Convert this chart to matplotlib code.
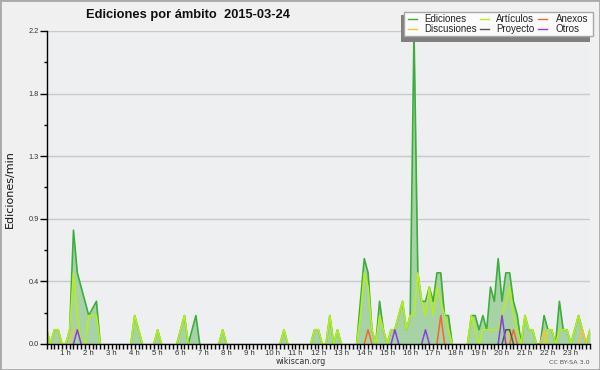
import numpy as np
import matplotlib
matplotlib.use("Agg")
import matplotlib.pyplot as plt
from matplotlib.patches import Rectangle
from matplotlib.lines import Line2D
from matplotlib.transforms import ScaledTranslation

# ---- data: edits per minute, 10-minute bins (bin 6*h = h:00) ----
ediciones = [
    0.1, 0, 0.1, 0.1, 0, 0,          # 0h
    0.1, 0.8, 0.5, 0.4, 0.3, 0.2,    # 1h
    0.25, 0.3, 0, 0, 0, 0,           # 2h
    0, 0, 0, 0, 0, 0.2,              # 3h
    0.1, 0, 0, 0, 0, 0.1,            # 4h
    0, 0, 0, 0, 0, 0.1,              # 5h
    0.2, 0, 0.1, 0.2, 0, 0,          # 6h
    0, 0, 0, 0, 0.1, 0,              # 7h
    0, 0, 0, 0, 0, 0,                # 8h
    0, 0, 0, 0, 0, 0,                # 9h
    0, 0, 0.1, 0, 0, 0,              # 10h
    0, 0, 0, 0, 0.1, 0.1,            # 11h
    0, 0, 0.2, 0, 0.1, 0,            # 12h
    0, 0, 0, 0, 0.3, 0.6,            # 13h
    0.5, 0.1, 0, 0.3, 0.1, 0,        # 14h
    0.1, 0.1, 0.2, 0.3, 0.1, 0.2,    # 15h
    2.2, 0.5, 0.3, 0.3, 0.4, 0.3,    # 16h
    0.5, 0.5, 0.2, 0.2, 0, 0,        # 17h
    0, 0, 0, 0.2, 0.2, 0.1,          # 18h
    0.2, 0.1, 0.4, 0.3, 0.6, 0.3,    # 19h
    0.5, 0.5, 0.3, 0.2, 0, 0.2,      # 20h
    0.1, 0.1, 0, 0, 0.2, 0.1,        # 21h
    0.1, 0, 0.3, 0.1, 0.1, 0,        # 22h
    0.1, 0.2, 0.1, 0, 0.1,           # 23h
]
articulos = [
    0.1, 0, 0.1, 0.1, 0, 0,
    0.1, 0.5, 0.2, 0, 0, 0.2,
    0.2, 0.2, 0, 0, 0, 0,
    0, 0, 0, 0, 0, 0.2,
    0.1, 0, 0, 0, 0, 0.1,
    0, 0, 0, 0, 0, 0.1,
    0.2, 0, 0, 0, 0, 0,
    0, 0, 0, 0, 0.1, 0,
    0, 0, 0, 0, 0, 0,
    0, 0, 0, 0, 0, 0,
    0, 0, 0.1, 0, 0, 0,
    0, 0, 0, 0, 0.1, 0.1,
    0, 0, 0.2, 0, 0.1, 0,
    0, 0, 0, 0, 0.2, 0.5,
    0.4, 0.1, 0, 0.2, 0.1, 0,
    0.1, 0.1, 0.2, 0.3, 0.1, 0.2,
    0.2, 0.5, 0.3, 0.2, 0.4, 0.2,
    0.4, 0.3, 0.2, 0.1, 0, 0,
    0, 0, 0, 0.2, 0.1, 0,
    0.1, 0.1, 0.1, 0.1, 0.1, 0.2,
    0.3, 0.4, 0.2, 0.1, 0, 0.2,
    0.1, 0.1, 0, 0, 0, 0.1,
    0.1, 0, 0.1, 0.1, 0.1, 0,
    0.1, 0.2, 0.1, 0, 0.1,
]
n_bins = len(ediciones)
# sparse minor series: {bin: value}
anexos_pts = {84: 0.1, 103: 0.2, 122: 0.1}
discusiones_pts = {7: 0.1, 8: 0.1, 121: 0.1, 130: 0.1, 140: 0.1}
proyecto_pts = {120: 0.1, 121: 0.1}
otros_pts = {8: 0.1, 91: 0.1, 99: 0.1, 119: 0.2}

y_ticks = [0, 0.44, 0.88, 1.32, 1.76, 2.2]
y_tick_labels = ['0.0', '0.4', '0.9', '1.3', '1.8', '2.2']
hours = list(range(1, 24))
hour_labels = [f'{h} h' for h in hours]

legend_labels = ['Ediciones', 'Artículos', 'Anexos', 'Discusiones', 'Proyecto', 'Otros']
legend_colors = ['#3cae3c', '#b4ee1c', '#f06a28', '#f2c438', '#555555', '#8a3ee8']

W, H = 600, 370


def dense(pts):
    v = np.zeros(n_bins)
    for k, val in pts.items():
        v[k] = val
    return v


def visible(v):
    v = np.asarray(v, float)
    nz = v > 0
    keep = nz | np.r_[nz[1:], False] | np.r_[False, nz[:-1]]
    return np.where(keep, v, np.nan)


fig = plt.figure(figsize=(W / 100, H / 100), dpi=100)
fig.patch.set_facecolor('#f0f0f0')

x0, x1, y0, y1 = 46.7, 590, 31, 344
ax = fig.add_axes([x0 / W, 1 - y1 / H, (x1 - x0) / W, (y1 - y0) / H])
ax.set_facecolor('#eeeff1')

x = np.arange(n_bins)
ed = np.array(ediciones, float)
ax.fill_between(x, 0, ed, color='#a6d2a6', lw=0, zorder=1)
ax.plot(x, visible(ed), color=legend_colors[0], lw=1.2, zorder=3)
ax.plot(x, visible(articulos), color=legend_colors[1], lw=1.2, zorder=4)
for pts, col in [(anexos_pts, legend_colors[2]), (discusiones_pts, legend_colors[3]),
                 (proyecto_pts, legend_colors[4]), (otros_pts, legend_colors[5])]:
    ax.plot(x, visible(dense(pts)), color=col, lw=1.1, zorder=5)

ax.set_xlim(0, n_bins - 1)
ax.set_ylim(0, 2.2)

ax.set_yticks(y_ticks)
ax.set_yticklabels(y_tick_labels, fontsize=5.3, family='Liberation Sans', color='#333333')
ax.set_yticks([(a + b) / 2 for a, b in zip(y_ticks[:-1], y_ticks[1:])], minor=True)
ax.tick_params(axis='y', which='major', length=4.8, width=1, direction='out', pad=1)
ax.tick_params(axis='y', which='minor', length=2.4, width=1, direction='out')

ax.set_xticks([6 * h for h in hours])
ax.set_xticklabels(hour_labels, fontsize=5.6, family='Liberation Sans', color='#333333')
ax.set_xticks(np.arange(0, n_bins), minor=True)
ax.tick_params(axis='x', which='both', length=3.8, width=1, direction='out', pad=0.3)
for lab in ax.get_xticklabels():
    lab.set_transform(lab.get_transform() + ScaledTranslation(-4 / 100, 0, fig.dpi_scale_trans))

ax.grid(axis='y', which='major', color='#c9c9c9', lw=1, zorder=0)
ax.set_axisbelow(True)
for s in ['top', 'right']:
    ax.spines[s].set_visible(False)
for s in ['left', 'bottom']:
    ax.spines[s].set_color('black')
    ax.spines[s].set_linewidth(1)
    ax.spines[s].set_zorder(6)

# texts
fig.text(188 / W, 1 - 15 / H, 'Ediciones por ámbito  2015-03-24', ha='center', va='center',
         fontsize=9.3, fontweight='bold', family='Liberation Sans', color='#111111')
fig.text(10 / W, 1 - 189 / H, 'Ediciones/min', rotation=90, ha='center', va='center',
         fontsize=8, family='DejaVu Sans', color='#111111')
fig.text(301 / W, 1 - 361 / H, 'wikiscan.org', ha='center', va='center',
         fontsize=5.8, family='DejaVu Sans', color='#333333')
fig.text(590 / W, 1 - 362 / H, 'CC BY-SA 3.0', ha='right', va='center',
         fontsize=4.6, family='DejaVu Sans', color='#555555')

# legend (manual, with shadow)
def fr(px, py, w, h, **kw):
    return Rectangle((px / W, 1 - (py + h) / H), w / W, h / H, transform=fig.transFigure, **kw)

fig.patches.append(fr(401, 15, 189, 26.7, facecolor='#808080', edgecolor='none', zorder=10))
fig.patches.append(fr(404, 11.7, 189.3, 24.3, facecolor='#fbfbfb', edgecolor='#a8a8a8', lw=1, zorder=11))
col_line_x = [408, 480, 538]
col_text_x = [424, 496, 556]
row_y = [19, 29.3]
for i, (lab, col) in enumerate(zip(legend_labels, legend_colors)):
    r, c = divmod(i, 3)
    ly = 1 - row_y[r] / H
    fig.lines.append(Line2D([col_line_x[c] / W, (col_line_x[c] + 9) / W], [ly, ly],
                            transform=fig.transFigure, color=col, lw=1, zorder=12))
    fig.text(col_text_x[c] / W, ly, lab, ha='left', va='center', fontsize=7,
             family='Liberation Sans', color='#222222', zorder=12)

# outer border
fig.patches.append(Rectangle((0, 0), 1, 1, transform=fig.transFigure, fill=False,
                             edgecolor='#a9a9a9', lw=2, zorder=20))

fig.savefig('out.png', dpi=100, facecolor=fig.get_facecolor())
